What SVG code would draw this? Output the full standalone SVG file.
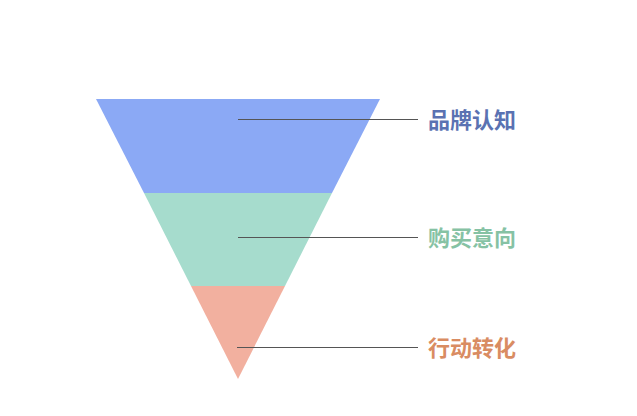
<svg xmlns="http://www.w3.org/2000/svg" width="637" height="416" viewBox="0 0 637 416">
<style>
.lbl{font-family:"Noto Sans CJK SC","Noto Sans",sans-serif;font-size:22px;font-weight:bold;}
.ln{stroke:#555;stroke-width:1.2;fill:none;}
</style>
<rect width="637" height="416" fill="#ffffff"/>
<g id="stage1">
<polygon points="96,99 380,99 332,193 144,193" fill="#8ba9f5"/>
<text class="lbl" x="428" y="127.5" fill="#5a72b2">品牌认知</text>
</g>
<g id="stage2">
<polygon points="144,193 332,193 285,286 191,286" fill="#a6dccd"/>
<text class="lbl" x="428" y="245.5" fill="#86c2a4">购买意向</text>
</g>
<g id="stage3">
<polygon points="191,286 285,286 238,379" fill="#f2b09f"/>
<text class="lbl" x="428" y="355.5" fill="#d98c62">行动转化</text>
</g>
<g id="connectors">
<line class="ln" x1="238" y1="119.5" x2="418" y2="119.5"/>
<line class="ln" x1="238" y1="237.5" x2="418" y2="237.5"/>
<line class="ln" x1="237" y1="347.5" x2="418" y2="347.5"/>
</g>
</svg>
